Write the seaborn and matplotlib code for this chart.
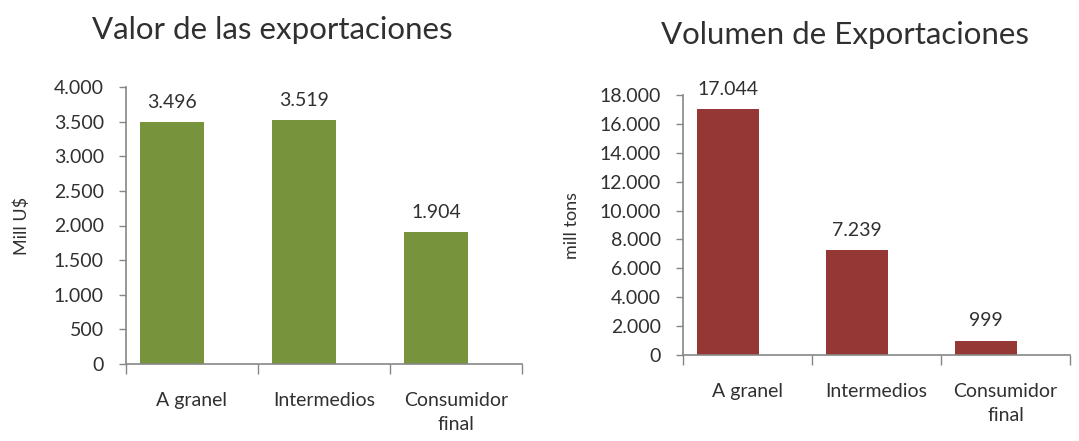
import matplotlib
matplotlib.use("Agg")
import matplotlib.pyplot as plt
import seaborn as sns
import pandas as pd
from matplotlib.ticker import FixedLocator, FuncFormatter

categories = ["A granel", "Intermedios", "Consumidor\nfinal"]
valor_exportaciones = [3496, 3519, 1904]
volumen_exportaciones = [17044, 7239, 999]
valor_ticks = [0, 500, 1000, 1500, 2000, 2500, 3000, 3500, 4000]
volumen_ticks = [0, 2000, 4000, 6000, 8000, 10000, 12000, 14000, 16000, 18000]

sns.set_theme(style="white")
plt.rcParams["font.family"] = ["Lato", "DejaVu Sans"]
plt.rcParams["font.weight"] = "normal"

TEXT = "#303030"
AXIS = "#868686"
GREEN = "#77933C"
RED = "#953735"
W = "normal"

def fmt(v, pos=None):
    return f"{v:,.0f}".replace(",", ".")

fig = plt.figure(figsize=(10.79, 4.41), dpi=100)
ax1 = fig.add_axes([126/1079, 1-364/441, (522-126)/1079, (364-87)/441])
ax2 = fig.add_axes([683/1079, 1-355/441, (1070-683)/1079, (355-95)/441])

df1 = pd.DataFrame({"cat": categories, "val": valor_exportaciones})
df2 = pd.DataFrame({"cat": categories, "val": volumen_exportaciones})

offset = 20/132
for ax, df, color, ticks, ylabel, lpad in [
    (ax1, df1, GREEN, valor_ticks, "Mill U$", 17),
    (ax2, df2, RED, volumen_ticks, "mill tons", 14),
]:
    sns.barplot(data=df, x="cat", y="val", color=color, width=0.485,
                saturation=1, ax=ax, edgecolor="none")
    for c in ax.containers:
        ax.bar_label(c, labels=[fmt(v) for v in c.datavalues], padding=8,
                     fontsize=14, color=TEXT, fontweight=W)
    ax.set_ylim(ticks[0], ticks[-1])
    ax.set_yticks(ticks)
    ax.yaxis.set_major_formatter(FuncFormatter(fmt))
    n = len(categories)
    left = -(0.5 - offset)
    ax.set_xlim(left, left + n)
    ax.set_xticks([i + offset for i in range(n)])
    ax.set_xticklabels(categories, linespacing=1.55)
    ax.xaxis.set_minor_locator(FixedLocator([left + i for i in range(n + 1)]))
    ax.tick_params(axis="x", which="major", length=0, pad=20,
                   labelsize=14, labelcolor=TEXT)
    ax.tick_params(axis="x", which="minor", length=7, width=1,
                   color=AXIS, direction="out", bottom=True)
    ax.tick_params(axis="y", which="major", length=5, width=1, color=AXIS,
                   direction="out", left=True, pad=11, labelsize=14,
                   labelcolor=TEXT)
    for lab in ax.get_xticklabels() + ax.get_yticklabels():
        lab.set_fontweight(W)
    ax.set_xlabel("")
    ax.set_ylabel(ylabel, fontsize=13, color=TEXT, labelpad=lpad,
                  fontweight=W)
    for s in ["top", "right"]:
        ax.spines[s].set_visible(False)
    for s in ["left", "bottom"]:
        ax.spines[s].set_color(AXIS)
        ax.spines[s].set_linewidth(1.2)

fig.text(272/1079, 1-30/441, "Valor de las exportaciones", ha="center",
         va="center", fontsize=22.5, color=TEXT, fontweight=W)
fig.text(845/1079, 1-35/441, "Volumen de Exportaciones", ha="center",
         va="center", fontsize=22.5, color=TEXT, fontweight=W)

fig.savefig("out.png", dpi=100, facecolor="white")
